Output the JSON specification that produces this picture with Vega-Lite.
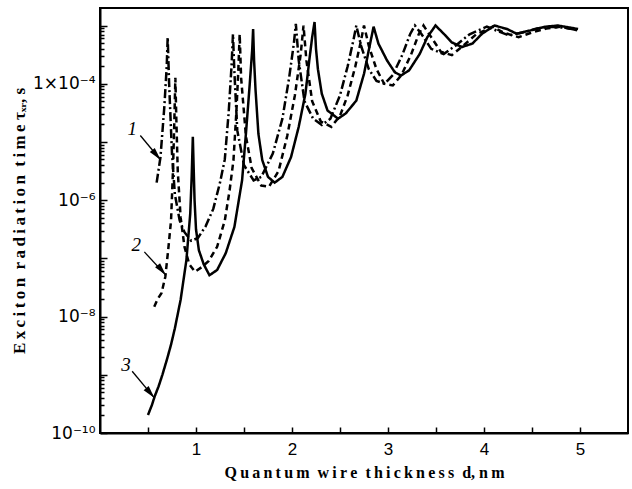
{
  "$schema": "https://vega.github.io/schema/vega-lite/v6.json",
  "width": 528,
  "height": 425,
  "autosize": {"type": "none"},
  "padding": {"left": 100, "top": 8, "right": 4, "bottom": 56},
  "background": "white",
  "config": {
    "view": {"stroke": "black", "strokeWidth": 2},
    "axis": {"grid": false, "domainColor": "black", "domainWidth": 2, "tickColor": "black", "labelColor": "black", "titleColor": "black"}
  },
  "datasets": {
    "curves": [
      {"d": 0.50, "tau": 2.04e-10, "curve": "3"},
      {"d": 0.54, "tau": 3.0e-10, "curve": "3"},
      {"d": 0.57, "tau": 4.27e-10, "curve": "3"},
      {"d": 0.61, "tau": 6.3e-10, "curve": "3"},
      {"d": 0.65, "tau": 1.0e-9, "curve": "3"},
      {"d": 0.70, "tau": 1.9e-9, "curve": "3"},
      {"d": 0.74, "tau": 3.3e-9, "curve": "3"},
      {"d": 0.78, "tau": 6.3e-9, "curve": "3"},
      {"d": 0.84, "tau": 1.95e-8, "curve": "3"},
      {"d": 0.90, "tau": 9.33e-8, "curve": "3"},
      {"d": 0.94, "tau": 5.89e-7, "curve": "3"},
      {"d": 0.955, "tau": 2.51e-6, "curve": "3"},
      {"d": 0.967, "tau": 1.23e-5, "curve": "3"},
      {"d": 0.975, "tau": 3.98e-6, "curve": "3"},
      {"d": 0.985, "tau": 1.0e-6, "curve": "3"},
      {"d": 1.00, "tau": 3.16e-7, "curve": "3"},
      {"d": 1.03, "tau": 1.38e-7, "curve": "3"},
      {"d": 1.08, "tau": 7.94e-8, "curve": "3"},
      {"d": 1.14, "tau": 5.13e-8, "curve": "3"},
      {"d": 1.22, "tau": 6.31e-8, "curve": "3"},
      {"d": 1.31, "tau": 1.23e-7, "curve": "3"},
      {"d": 1.40, "tau": 3.47e-7, "curve": "3"},
      {"d": 1.48, "tau": 2.19e-6, "curve": "3"},
      {"d": 1.52, "tau": 1.38e-5, "curve": "3"},
      {"d": 1.56, "tau": 1.0e-4, "curve": "3"},
      {"d": 1.585, "tau": 3.72e-4, "curve": "3"},
      {"d": 1.595, "tau": 8.71e-4, "curve": "3"},
      {"d": 1.605, "tau": 2.51e-4, "curve": "3"},
      {"d": 1.62, "tau": 7.94e-5, "curve": "3"},
      {"d": 1.65, "tau": 1.38e-5, "curve": "3"},
      {"d": 1.69, "tau": 4.90e-6, "curve": "3"},
      {"d": 1.75, "tau": 2.51e-6, "curve": "3"},
      {"d": 1.82, "tau": 2.0e-6, "curve": "3"},
      {"d": 1.90, "tau": 2.51e-6, "curve": "3"},
      {"d": 1.99, "tau": 5.50e-6, "curve": "3"},
      {"d": 2.07, "tau": 1.82e-5, "curve": "3"},
      {"d": 2.14, "tau": 6.76e-5, "curve": "3"},
      {"d": 2.18, "tau": 2.51e-4, "curve": "3"},
      {"d": 2.21, "tau": 6.31e-4, "curve": "3"},
      {"d": 2.235, "tau": 1.15e-3, "curve": "3"},
      {"d": 2.25, "tau": 3.98e-4, "curve": "3"},
      {"d": 2.27, "tau": 1.78e-4, "curve": "3"},
      {"d": 2.31, "tau": 6.76e-5, "curve": "3"},
      {"d": 2.37, "tau": 3.47e-5, "curve": "3"},
      {"d": 2.48, "tau": 2.51e-5, "curve": "3"},
      {"d": 2.56, "tau": 3.09e-5, "curve": "3"},
      {"d": 2.67, "tau": 5.13e-5, "curve": "3"},
      {"d": 2.75, "tau": 1.48e-4, "curve": "3"},
      {"d": 2.82, "tau": 5.50e-4, "curve": "3"},
      {"d": 2.85, "tau": 9.55e-4, "curve": "3"},
      {"d": 2.90, "tau": 4.90e-4, "curve": "3"},
      {"d": 2.99, "tau": 2.51e-4, "curve": "3"},
      {"d": 3.07, "tau": 1.58e-4, "curve": "3"},
      {"d": 3.135, "tau": 1.38e-4, "curve": "3"},
      {"d": 3.22, "tau": 1.70e-4, "curve": "3"},
      {"d": 3.33, "tau": 3.24e-4, "curve": "3"},
      {"d": 3.41, "tau": 6.31e-4, "curve": "3"},
      {"d": 3.495, "tau": 1.0e-3, "curve": "3"},
      {"d": 3.58, "tau": 7.24e-4, "curve": "3"},
      {"d": 3.665, "tau": 5.13e-4, "curve": "3"},
      {"d": 3.77, "tau": 4.27e-4, "curve": "3"},
      {"d": 3.88, "tau": 4.90e-4, "curve": "3"},
      {"d": 3.98, "tau": 7.24e-4, "curve": "3"},
      {"d": 4.11, "tau": 1.0e-3, "curve": "3"},
      {"d": 4.24, "tau": 8.71e-4, "curve": "3"},
      {"d": 4.34, "tau": 7.24e-4, "curve": "3"},
      {"d": 4.47, "tau": 8.13e-4, "curve": "3"},
      {"d": 4.64, "tau": 9.55e-4, "curve": "3"},
      {"d": 4.77, "tau": 1.0e-3, "curve": "3"},
      {"d": 4.98, "tau": 8.71e-4, "curve": "3"},

      {"d": 0.59, "tau": 2.0e-6, "curve": "1"},
      {"d": 0.63, "tau": 5.50e-6, "curve": "1"},
      {"d": 0.67, "tau": 3.98e-5, "curve": "1"},
      {"d": 0.695, "tau": 2.0e-4, "curve": "1"},
      {"d": 0.705, "tau": 6.31e-4, "curve": "1"},
      {"d": 0.72, "tau": 1.0e-4, "curve": "1"},
      {"d": 0.75, "tau": 6.31e-6, "curve": "1"},
      {"d": 0.78, "tau": 1.26e-6, "curve": "1"},
      {"d": 0.83, "tau": 4.47e-7, "curve": "1"},
      {"d": 0.88, "tau": 2.82e-7, "curve": "1"},
      {"d": 0.95, "tau": 2.0e-7, "curve": "1"},
      {"d": 1.02, "tau": 2.24e-7, "curve": "1"},
      {"d": 1.10, "tau": 3.55e-7, "curve": "1"},
      {"d": 1.18, "tau": 7.08e-7, "curve": "1"},
      {"d": 1.25, "tau": 2.0e-6, "curve": "1"},
      {"d": 1.30, "tau": 5.01e-6, "curve": "1"},
      {"d": 1.34, "tau": 3.16e-5, "curve": "1"},
      {"d": 1.37, "tau": 2.0e-4, "curve": "1"},
      {"d": 1.385, "tau": 7.08e-4, "curve": "1"},
      {"d": 1.40, "tau": 1.58e-4, "curve": "1"},
      {"d": 1.43, "tau": 1.58e-5, "curve": "1"},
      {"d": 1.50, "tau": 3.98e-6, "curve": "1"},
      {"d": 1.60, "tau": 2.19e-6, "curve": "1"},
      {"d": 1.68, "tau": 2.51e-6, "curve": "1"},
      {"d": 1.80, "tau": 6.31e-6, "curve": "1"},
      {"d": 1.90, "tau": 2.51e-5, "curve": "1"},
      {"d": 1.97, "tau": 1.26e-4, "curve": "1"},
      {"d": 2.02, "tau": 5.01e-4, "curve": "1"},
      {"d": 2.04, "tau": 1.07e-3, "curve": "1"},
      {"d": 2.07, "tau": 2.51e-4, "curve": "1"},
      {"d": 2.13, "tau": 5.01e-5, "curve": "1"},
      {"d": 2.22, "tau": 2.51e-5, "curve": "1"},
      {"d": 2.31, "tau": 1.95e-5, "curve": "1"},
      {"d": 2.40, "tau": 2.51e-5, "curve": "1"},
      {"d": 2.50, "tau": 6.31e-5, "curve": "1"},
      {"d": 2.58, "tau": 2.0e-4, "curve": "1"},
      {"d": 2.64, "tau": 5.62e-4, "curve": "1"},
      {"d": 2.67, "tau": 1.0e-3, "curve": "1"},
      {"d": 2.72, "tau": 4.47e-4, "curve": "1"},
      {"d": 2.80, "tau": 1.78e-4, "curve": "1"},
      {"d": 2.88, "tau": 1.12e-4, "curve": "1"},
      {"d": 2.965, "tau": 1.0e-4, "curve": "1"},
      {"d": 3.05, "tau": 1.41e-4, "curve": "1"},
      {"d": 3.15, "tau": 3.16e-4, "curve": "1"},
      {"d": 3.23, "tau": 7.08e-4, "curve": "1"},
      {"d": 3.28, "tau": 1.0e-3, "curve": "1"},
      {"d": 3.35, "tau": 7.08e-4, "curve": "1"},
      {"d": 3.45, "tau": 3.98e-4, "curve": "1"},
      {"d": 3.58, "tau": 3.24e-4, "curve": "1"},
      {"d": 3.70, "tau": 4.47e-4, "curve": "1"},
      {"d": 3.85, "tau": 7.08e-4, "curve": "1"},
      {"d": 4.03, "tau": 9.55e-4, "curve": "1"},
      {"d": 4.15, "tau": 7.94e-4, "curve": "1"},
      {"d": 4.26, "tau": 6.76e-4, "curve": "1"},
      {"d": 4.40, "tau": 7.59e-4, "curve": "1"},
      {"d": 4.55, "tau": 8.91e-4, "curve": "1"},
      {"d": 4.70, "tau": 9.55e-4, "curve": "1"},
      {"d": 4.85, "tau": 9.12e-4, "curve": "1"},
      {"d": 4.97, "tau": 8.32e-4, "curve": "1"},

      {"d": 0.565, "tau": 1.48e-8, "curve": "2"},
      {"d": 0.60, "tau": 2.0e-8, "curve": "2"},
      {"d": 0.64, "tau": 2.51e-8, "curve": "2"},
      {"d": 0.68, "tau": 4.79e-8, "curve": "2"},
      {"d": 0.71, "tau": 1.38e-7, "curve": "2"},
      {"d": 0.74, "tau": 4.47e-7, "curve": "2"},
      {"d": 0.76, "tau": 3.16e-6, "curve": "2"},
      {"d": 0.775, "tau": 2.51e-5, "curve": "2"},
      {"d": 0.785, "tau": 1.26e-4, "curve": "2"},
      {"d": 0.795, "tau": 2.51e-5, "curve": "2"},
      {"d": 0.81, "tau": 3.16e-6, "curve": "2"},
      {"d": 0.84, "tau": 5.01e-7, "curve": "2"},
      {"d": 0.88, "tau": 1.58e-7, "curve": "2"},
      {"d": 0.93, "tau": 7.94e-8, "curve": "2"},
      {"d": 0.99, "tau": 5.89e-8, "curve": "2"},
      {"d": 1.06, "tau": 7.08e-8, "curve": "2"},
      {"d": 1.13, "tau": 8.91e-8, "curve": "2"},
      {"d": 1.22, "tau": 1.58e-7, "curve": "2"},
      {"d": 1.30, "tau": 4.47e-7, "curve": "2"},
      {"d": 1.35, "tau": 1.48e-6, "curve": "2"},
      {"d": 1.39, "tau": 4.79e-6, "curve": "2"},
      {"d": 1.42, "tau": 3.16e-5, "curve": "2"},
      {"d": 1.44, "tau": 1.58e-4, "curve": "2"},
      {"d": 1.455, "tau": 7.08e-4, "curve": "2"},
      {"d": 1.47, "tau": 1.26e-4, "curve": "2"},
      {"d": 1.52, "tau": 1.26e-5, "curve": "2"},
      {"d": 1.58, "tau": 3.55e-6, "curve": "2"},
      {"d": 1.68, "tau": 1.78e-6, "curve": "2"},
      {"d": 1.76, "tau": 1.70e-6, "curve": "2"},
      {"d": 1.86, "tau": 3.16e-6, "curve": "2"},
      {"d": 1.95, "tau": 1.26e-5, "curve": "2"},
      {"d": 2.03, "tau": 6.31e-5, "curve": "2"},
      {"d": 2.09, "tau": 3.16e-4, "curve": "2"},
      {"d": 2.12, "tau": 1.0e-3, "curve": "2"},
      {"d": 2.15, "tau": 2.51e-4, "curve": "2"},
      {"d": 2.21, "tau": 5.01e-5, "curve": "2"},
      {"d": 2.30, "tau": 2.24e-5, "curve": "2"},
      {"d": 2.41, "tau": 1.82e-5, "curve": "2"},
      {"d": 2.50, "tau": 2.82e-5, "curve": "2"},
      {"d": 2.58, "tau": 6.31e-5, "curve": "2"},
      {"d": 2.66, "tau": 2.0e-4, "curve": "2"},
      {"d": 2.72, "tau": 5.62e-4, "curve": "2"},
      {"d": 2.75, "tau": 1.0e-3, "curve": "2"},
      {"d": 2.80, "tau": 4.47e-4, "curve": "2"},
      {"d": 2.88, "tau": 1.78e-4, "curve": "2"},
      {"d": 2.96, "tau": 1.0e-4, "curve": "2"},
      {"d": 3.05, "tau": 9.33e-5, "curve": "2"},
      {"d": 3.14, "tau": 1.41e-4, "curve": "2"},
      {"d": 3.24, "tau": 3.16e-4, "curve": "2"},
      {"d": 3.32, "tau": 7.08e-4, "curve": "2"},
      {"d": 3.37, "tau": 1.0e-3, "curve": "2"},
      {"d": 3.45, "tau": 6.31e-4, "curve": "2"},
      {"d": 3.55, "tau": 3.55e-4, "curve": "2"},
      {"d": 3.665, "tau": 3.09e-4, "curve": "2"},
      {"d": 3.78, "tau": 4.47e-4, "curve": "2"},
      {"d": 3.92, "tau": 7.08e-4, "curve": "2"},
      {"d": 4.09, "tau": 9.55e-4, "curve": "2"},
      {"d": 4.20, "tau": 7.59e-4, "curve": "2"},
      {"d": 4.36, "tau": 6.31e-4, "curve": "2"},
      {"d": 4.50, "tau": 7.59e-4, "curve": "2"},
      {"d": 4.65, "tau": 8.91e-4, "curve": "2"},
      {"d": 4.80, "tau": 9.55e-4, "curve": "2"},
      {"d": 4.97, "tau": 8.32e-4, "curve": "2"}
    ],
    "arrows": [
      {"label": "1", "lx": 0.335, "ly": 1.7e-5, "x1": 0.42, "y1": 1.29e-5, "x2": 0.632, "y2": 4.9e-6},
      {"label": "2", "lx": 0.378, "ly": 1.7e-7, "x1": 0.462, "y1": 1.29e-7, "x2": 0.687, "y2": 5.13e-8},
      {"label": "3", "lx": 0.27, "ly": 1.48e-9, "x1": 0.335, "y1": 1.15e-9, "x2": 0.568, "y2": 3.98e-10}
    ]
  },
  "layer": [
    {
      "data": {"name": "curves"},
      "mark": {"type": "line", "color": "black", "strokeWidth": 2.5, "clip": true},
      "encoding": {
        "x": {
          "field": "d", "type": "quantitative",
          "scale": {"domain": [0, 5.5], "nice": false, "zero": false},
          "axis": {
            "values": [0.5, 1, 1.5, 2, 2.5, 3, 3.5, 4, 4.5, 5],
            "labelExpr": "datum.value % 1 == 0 ? format(datum.value, 'd') : ''",
            "tickSize": -6, "tickWidth": 1.5, "labelPadding": 14,
            "labelFont": "Liberation Sans", "labelFontSize": 17,
            "title": "Q\u2009u\u2009a\u2009n\u2009t\u2009u\u2009m\u00a0\u00a0w\u2009i\u2009r\u2009e\u00a0\u00a0t\u2009h\u2009i\u2009c\u2009k\u2009n\u2009e\u2009s\u2009s\u00a0\u00a0d,\u00a0n\u2009m",
            "titleFont": "Liberation Serif", "titleFontWeight": "bold", "titleFontSize": 16, "titlePadding": 7
          }
        },
        "y": {
          "field": "tau", "type": "quantitative",
          "scale": {"type": "log", "domain": [1e-10, 2e-3], "nice": false},
          "axis": {
            "values": [1e-10, 2e-10, 3e-10, 4e-10, 5e-10, 6e-10, 7e-10, 8e-10, 9e-10,
                       1e-9, 2e-9, 3e-9, 4e-9, 5e-9, 6e-9, 7e-9, 8e-9, 9e-9,
                       1e-8, 2e-8, 3e-8, 4e-8, 5e-8, 6e-8, 7e-8, 8e-8, 9e-8,
                       1e-7, 2e-7, 3e-7, 4e-7, 5e-7, 6e-7, 7e-7, 8e-7, 9e-7,
                       1e-6, 2e-6, 3e-6, 4e-6, 5e-6, 6e-6, 7e-6, 8e-6, 9e-6,
                       1e-5, 2e-5, 3e-5, 4e-5, 5e-5, 6e-5, 7e-5, 8e-5, 9e-5,
                       1e-4, 2e-4, 3e-4, 4e-4, 5e-4, 6e-4, 7e-4, 8e-4, 9e-4, 1e-3],
            "labelExpr": "abs(datum.value/1e-10 - 1) < 0.01 ? '10⁻¹⁰' : abs(datum.value/1e-8 - 1) < 0.01 ? '10⁻⁸' : abs(datum.value/1e-6 - 1) < 0.01 ? '10⁻⁶' : abs(datum.value/1e-4 - 1) < 0.01 ? '1×10⁻⁴' : ''",
            "tickSize": {"condition": {"test": "abs(log(datum.value)/LN10 - round(log(datum.value)/LN10)) < 0.01", "value": -7}, "value": -4},
            "tickWidth": 1.5, "labelPadding": 12,
            "labelFont": "DejaVu Sans", "labelFontSize": 17,
            "title": "E\u2009x\u2009c\u2009i\u2009t\u2009o\u2009n\u00a0\u00a0r\u2009a\u2009d\u2009i\u2009a\u2009t\u2009i\u2009o\u2009n\u00a0\u00a0t\u2009i\u2009m\u2009e\u00a0τₓᵣ,\u00a0s",
            "titleFont": "Liberation Serif", "titleFontWeight": "bold", "titleFontSize": 17, "titlePadding": 4
          }
        },
        "strokeDash": {
          "field": "curve", "type": "nominal",
          "scale": {"domain": ["1", "2", "3"], "range": [[9, 3, 2, 3], [6, 4], [1, 0]]},
          "legend": null
        }
      }
    },
    {
      "data": {"name": "arrows"},
      "mark": {"type": "rule", "color": "black", "strokeWidth": 1.3},
      "encoding": {
        "x": {"field": "x1", "type": "quantitative"},
        "y": {"field": "y1", "type": "quantitative"},
        "x2": {"field": "x2"},
        "y2": {"field": "y2"}
      }
    },
    {
      "data": {"name": "arrows"},
      "mark": {"type": "point", "shape": "M0,0L-0.5,2L0.5,2Z", "filled": true, "color": "black", "size": 170, "angle": 140, "opacity": 1},
      "encoding": {
        "x": {"field": "x2", "type": "quantitative"},
        "y": {"field": "y2", "type": "quantitative"}
      }
    },
    {
      "data": {"name": "arrows"},
      "mark": {"type": "text", "font": "Liberation Serif", "fontStyle": "italic", "fontSize": 19, "color": "black", "align": "center", "baseline": "middle"},
      "encoding": {
        "x": {"field": "lx", "type": "quantitative"},
        "y": {"field": "ly", "type": "quantitative"},
        "text": {"field": "label"}
      }
    }
  ]
}
